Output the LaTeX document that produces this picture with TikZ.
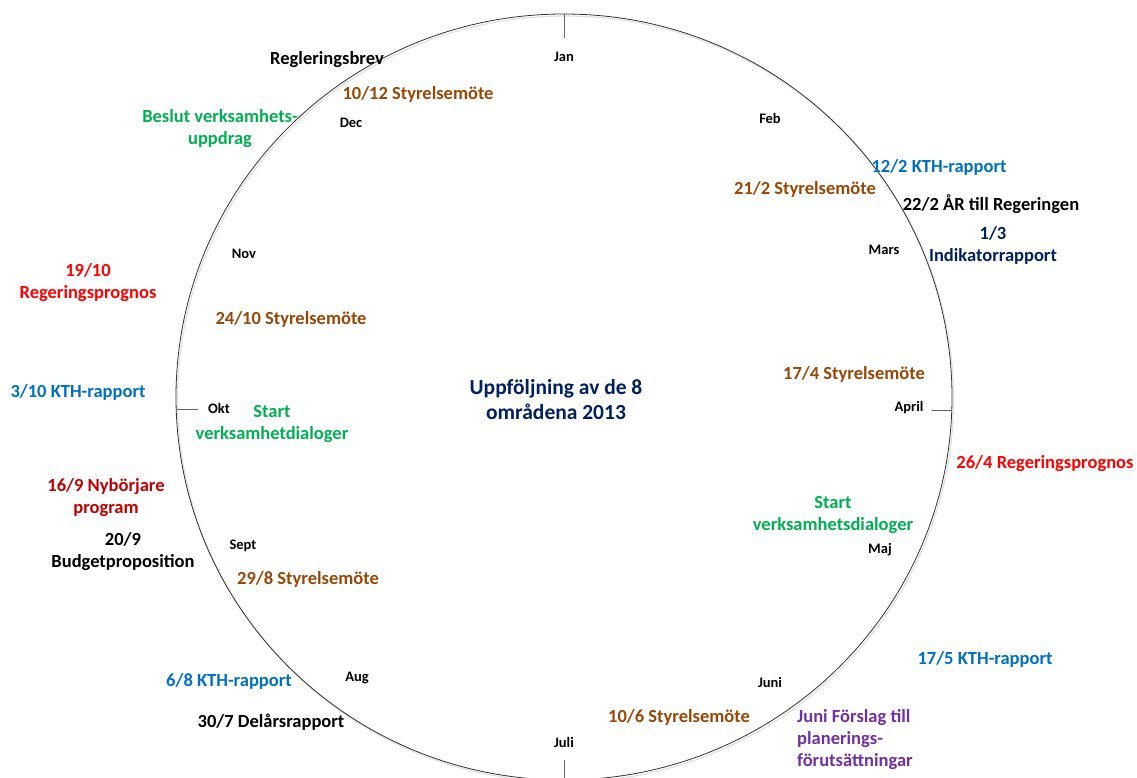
\documentclass[tikz,border=0pt]{standalone}
\usepackage{fontspec}
\setmainfont{Carlito}
\usetikzlibrary{calc}
\definecolor{brun}{RGB}{151,72,6}
\definecolor{gron}{RGB}{0,176,80}
\definecolor{bla}{RGB}{0,112,192}
\definecolor{marin}{RGB}{0,32,96}
\definecolor{rod}{RGB}{255,0,0}
\definecolor{morkrod}{RGB}{192,0,0}
\definecolor{lila}{RGB}{112,48,160}
\newcommand{\rx}{388pt}
\newcommand{\ry}{383pt}

\begin{document}
\begin{tikzpicture}[x=1pt,y=-1pt,
    month/.style={font=\bfseries\fontsize{14.5}{17}\selectfont,inner sep=0pt,yshift=-1pt},
    event/.style={font=\bfseries\fontsize{18.5}{22}\selectfont,align=center,inner sep=0pt,yshift=-2pt}]
  \useasboundingbox (0,0) rectangle (1137,778);
  \coordinate (c) at (564,397);
  \draw[black!12,line width=1.2pt] ($(c)+(1.5,2)$) ellipse [x radius=\rx,y radius=\ry];
  \draw[black!80,line width=0.8pt] (c) ellipse [x radius=\rx,y radius=\ry];

  % ticks
  \draw[black!60,line width=1pt] (564,14) -- (564,38);
  \draw[black!60,line width=1pt] (176,409) -- (198,409);
  \draw[black!60,line width=1pt] (932,410) -- (952,410);
  \draw[black!60,line width=1pt] (564,760) -- (564,780);

  % months
  \foreach \name/\px/\py in {Jan/564/56,Feb/770/117,Mars/884/249,April/909/407,
      Maj/880/549,Juni/770/681,Juli/564/741,Aug/357/677,Sept/243/545,
      Okt/219/407,Nov/244/253,Dec/351/122}
    \node[month] (m\name) at (\px,\py) {\name};

  \node[event,text=marin,font=\bfseries\fontsize{21.5}{25}\selectfont] (title) at (556,398)
    {Uppföljning av de 8\\områdena 2013};

  % events
  \node[event] (regbrev) at (327,58) {Regleringsbrev};
  \node[event,text=brun] (sty12) at (418,92) {10/12 Styrelsemöte};
  \node[event,text=gron] (beslut) at (220,127) {Beslut verksamhets-\\uppdrag};
  \node[event,text=bla] (kth2) at (939,165) {12/2 KTH-rapport};
  \node[event,text=brun] (sty2) at (805,187) {21/2 Styrelsemöte};
  \node[event] (ar) at (991,202) {22/2 ÅR till Regeringen};
  \node[event,text=marin] (indik) at (993,243) {1/3\\Indikatorrapport};
  \node[event,text=brun] (sty4) at (854,372) {17/4 Styrelsemöte};
  \node[event,text=rod] (prog4) at (1045,462) {26/4 Regeringsprognos};
  \node[event,text=gron] (dial5) at (833,513) {Start\\verksamhetsdialoger};
  \node[event,text=bla] (kth5) at (985,657) {17/5 KTH-rapport};
  \node[event,text=lila,align=left,anchor=west] (forslag) at (797,738)
    {Juni Förslag till\\planerings-\\förutsättningar};
  \node[event,text=brun] (sty6) at (679,715) {10/6 Styrelsemöte};
  \node[event] (delar) at (271,720) {30/7 Delårsrapport};
  \node[event,text=bla] (kth8) at (229,679) {6/8 KTH-rapport};
  \node[event,text=brun] (sty8) at (308,577) {29/8 Styrelsemöte};
  \node[event] (budget) at (123,550) {20/9\\Budgetproposition};
  \node[event,text=morkrod] (nyb) at (106,496) {16/9 Nybörjare\\program};
  \node[event,text=bla] (kth10) at (78,390) {3/10 KTH-rapport};
  \node[event,text=gron] (dial10) at (272,422) {Start\\verksamhetdialoger};
  \node[event,text=brun] (sty10) at (291,317) {24/10 Styrelsemöte};
  \node[event,text=rod] (prog10) at (88,281) {19/10\\Regeringsprognos};
\end{tikzpicture}
\end{document}
